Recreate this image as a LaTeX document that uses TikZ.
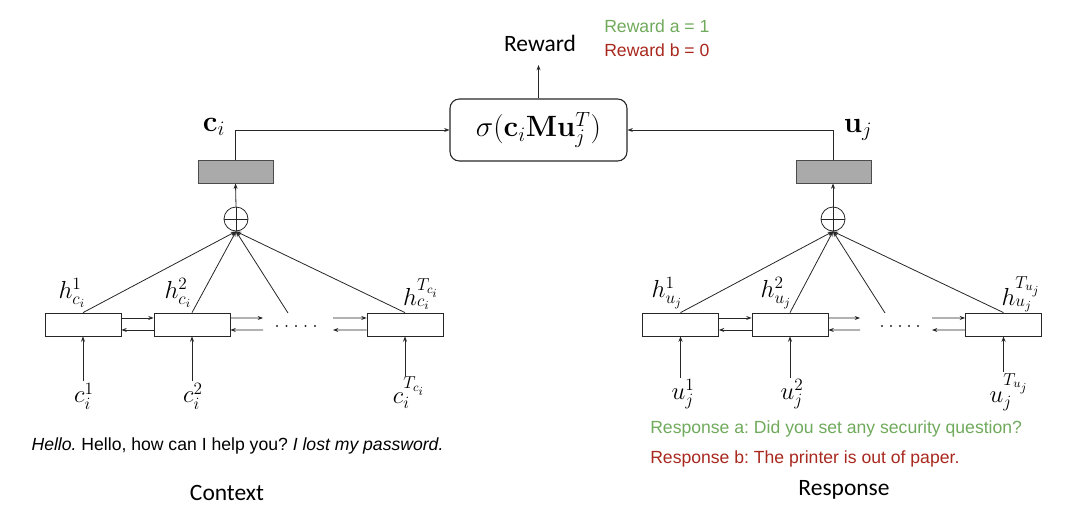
\RequirePackage{fix-cm}
\documentclass[tikz,border=0pt]{standalone}
\usepackage[no-math]{fontspec}
\setmainfont{Liberation Sans}
\newfontfamily\carlito{Carlito}
\usetikzlibrary{arrows.meta}
\frenchspacing
\definecolor{rgreen}{RGB}{112,170,92}
\definecolor{rred}{RGB}{168,40,30}
\definecolor{boxgray}{RGB}{170,170,170}
\tikzset{
  ln/.style={line width=0.6pt, draw=black!85},
  arr/.style={ln, -{Stealth[length=4pt,width=3pt]}},
  rnn/.style={draw=black!85, line width=0.6pt, fill=white, minimum width=57pt, minimum height=17.25pt, inner sep=0pt},
  gbox/.style={draw=black!70, line width=0.7pt, fill=boxgray, minimum width=56.25pt, minimum height=17.25pt, inner sep=0pt},
  opl/.style={draw=black!85, line width=0.6pt, circle, minimum size=18pt, inner sep=0pt},
  sig/.style={draw=black!85, line width=0.8pt, rounded corners=7pt, minimum width=132.75pt, minimum height=46.5pt, inner sep=0pt},
  bigm/.style={font=\fontsize{22}{26}\selectfont, inner sep=1pt},
  hm/.style={font=\fontsize{18.5}{22}\selectfont, inner sep=1pt},
  cal/.style={font=\carlito\fontsize{17.6}{20}\selectfont},
  smalltxt/.style={font=\fontsize{13.2}{15}\selectfont, inner sep=0pt},
  dotc/.style={fill=black!85, circle, inner sep=0pt, minimum size=1.8pt}
}
\begin{document}
\begin{tikzpicture}[x=0.75pt, y=-0.75pt]
\useasboundingbox (0,0) rectangle (1080,514);
% top
\node[sig] (sig) at (538.5,130) {\fontsize{22}{26}\selectfont $\sigma(\mathbf{c}_i\mathbf{M}\mathbf{u}_j^T)$};
\node[cal] (rew) at (540,43) {Reward};
\coordinate (rewtip) at (538.5,65);
\draw[arr] (sig.north) -- (rewtip);
\node[smalltxt, anchor=west, text=rgreen] (ra) at (604,26) {Reward a = 1};
\node[smalltxt, anchor=west, text=rred] (rb) at (604,50) {Reward b = 0};

% left encoder
\node[gbox] (gL) at (235.5,171.5) {};
\node[opl] (oL) at (236,219) {};
\draw[ln] (oL.north) -- (oL.south) (oL.west) -- (oL.east);
\draw[arr] (oL.north) -- (gL.south);
\draw[arr] (gL.north) |- (sig.west);
\node[bigm] (ci) at (214,127) {$\mathbf{c}_i$};

\node[rnn] (L1) at (83,324.5) {};
\node[rnn] (L2) at (192,324.5) {};
\node[rnn] (L3) at (405,324.5) {};
\coordinate (dL) at (288,313);
\foreach \i in {0,...,4} \node[dotc] (dotL\i) at (277+9.5*\i,326) {};
\draw[arr] ([yshift=4.9pt]L1.east) -- ([yshift=4.9pt]L2.west);
\draw[arr] ([yshift=-4.1pt]L2.west) -- ([yshift=-4.1pt]L1.east);
\coordinate (aL1) at (263,318);
\coordinate (aL2) at (263,330);
\coordinate (aL3) at (333,318);
\coordinate (aL4) at (333,330);
\draw[arr] ([yshift=4.9pt]L2.east) -- (aL1);
\draw[arr] (aL2) -- ([yshift=-4.1pt]L2.east);
\draw[arr] (aL3) -- ([yshift=4.9pt]L3.west);
\draw[arr] ([yshift=-4.1pt]L3.west) -- (aL4);
\draw[arr] (L1.north) -- (oL.south);
\draw[arr] (L2.north) -- (oL.south);
\draw[arr] (dL) -- (oL.south);
\draw[arr] (L3.north) -- (oL.south);
\node[hm] (hL1) at (72,293) {$h_{c_i}^1$};
\node[hm] (hL2) at (178,293) {$h_{c_i}^2$};
\node[hm] (hL3) at (421,294) {$h_{c_i}^{T_{c_i}}$};
\node[hm] (cL1) at (84,396) {$c_i^1$};
\node[hm] (cL2) at (193,396) {$c_i^2$};
\node[hm] (cL3) at (409,393) {$c_i^{T_{c_i}}$};
\draw[arr] (L1.south |- cL1.north) -- (L1.south);
\draw[arr] (L2.south |- cL2.north) -- (L2.south);
\draw[arr] (L3.south |- cL3.north) -- (L3.south);

% right encoder
\node[gbox] (gR) at (834,171.5) {};
\node[opl] (oR) at (833,219) {};
\draw[ln] (oR.north) -- (oR.south) (oR.west) -- (oR.east);
\draw[arr] (oR.north) -- (gR.south -| oR.north);
\draw[arr] (gR.north -| oR.north) |- (sig.east);
\node[bigm] (uj) at (858,130) {$\mathbf{u}_j$};

\node[rnn] (R1) at (680.5,324.5) {};
\node[rnn] (R2) at (790,324.5) {};
\node[rnn] (R3) at (1003.5,324.5) {};
\coordinate (dR) at (885,313);
\foreach \i in {0,...,4} \node[dotc] (dotR\i) at (882+9*\i,326) {};
\draw[arr] ([yshift=4.9pt]R1.east) -- ([yshift=4.9pt]R2.west);
\draw[arr] ([yshift=-4.1pt]R2.west) -- ([yshift=-4.1pt]R1.east);
\coordinate (aR1) at (860,318);
\coordinate (aR2) at (860,330);
\coordinate (aR3) at (932,318);
\coordinate (aR4) at (932,330);
\draw[arr] ([yshift=4.9pt]R2.east) -- (aR1);
\draw[arr] (aR2) -- ([yshift=-4.1pt]R2.east);
\draw[arr] (aR3) -- ([yshift=4.9pt]R3.west);
\draw[arr] ([yshift=-4.1pt]R3.west) -- (aR4);
\draw[arr] (R1.north) -- (oR.south);
\draw[arr] (R2.north) -- (oR.south);
\draw[arr] (dR) -- (oR.south);
\draw[arr] (R3.north) -- (oR.south);
\node[hm] (hR1) at (667,293) {$h_{u_j}^1$};
\node[hm] (hR2) at (776,293) {$h_{u_j}^2$};
\node[hm] (hR3) at (1021,294) {$h_{u_j}^{T_{u_j}}$};
\node[hm] (uR1) at (683,394) {$u_j^1$};
\node[hm] (uR2) at (792,394) {$u_j^2$};
\node[hm] (uR3) at (1009,392) {$u_j^{T_{u_j}}$};
\draw[arr] (R1.south |- uR1.north) -- (R1.south);
\draw[arr] (R2.south |- uR2.north) -- (R2.south);
\draw[arr] (R3.south |- uR3.north) -- (R3.south);

% bottom texts
\node[smalltxt] (ctxt) at (237.5,446) {\textit{Hello.} Hello, how can I help you? \textit{I lost my password.}};
\node[cal] (context) at (227,493) {Context};
\node[smalltxt, anchor=west, text=rgreen] (resa) at (650,429) {Response a: Did you set any security question?};
\node[smalltxt, anchor=west, text=rred] (resb) at (650,459) {Response b: The printer is out of paper.};
\node[cal] (response) at (844,490) {Response};
\end{tikzpicture}
\end{document}
